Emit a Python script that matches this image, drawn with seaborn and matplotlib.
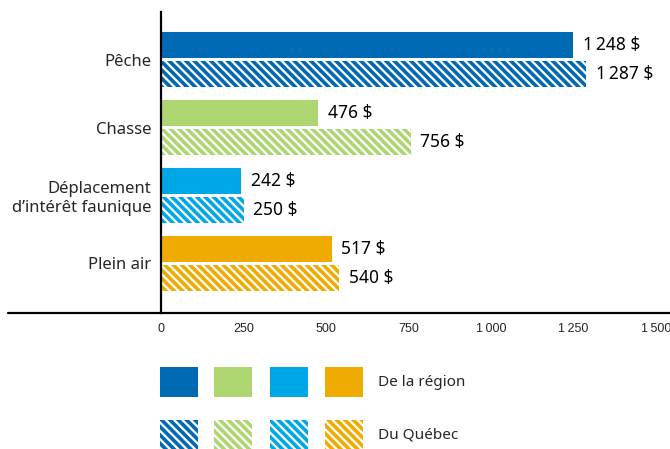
import pandas as pd
import matplotlib.pyplot as plt
import seaborn as sns
from matplotlib.patches import Rectangle
from matplotlib.lines import Line2D

# Données
activites = ['Pêche', 'Chasse', 'Déplacement\nd\u2019intérêt faunique', 'Plein air']
region = [1248, 476, 242, 517]
quebec = [1287, 756, 250, 540]
couleurs = ['#0069b4', '#aed670', '#00a7e6', '#f0ab00']
sources = ['De la région', 'Du Québec']
ticks = [0, 250, 500, 750, 1000, 1250, 1500]
tick_labels = ['0', '250', '500', '750', '1\u2009000', '1\u2009250', '1\u2009500']

HACH = '\\\\\\\\'

df = pd.DataFrame({
    'activite': activites * 2,
    'montant': region + quebec,
    'source': [sources[0]] * 4 + [sources[1]] * 4,
})

sns.set_style('white')
plt.rcParams['font.family'] = ['Noto Sans', 'DejaVu Sans']
plt.rcParams['hatch.linewidth'] = 2.6

W, H = 670, 449
fig = plt.figure(figsize=(W / 100, H / 100), dpi=100)
ax = fig.add_axes([161 / W, (H - 313) / H, (W - 161) / W, (313 - 12) / H])

sns.barplot(data=df, y='activite', x='montant', hue='source', orient='h',
            width=0.85, gap=0.1, ax=ax, legend=False, saturation=1)

# couleurs et hachures
for k, cont in enumerate(ax.containers):
    for bar, c in zip(cont, couleurs):
        bar.set_edgecolor(c)
        bar.set_linewidth(0)
        if k == 0:
            bar.set_facecolor(c)
        else:
            bar.set_facecolor('white')
            bar.set_hatch(HACH)
    vals = region if k == 0 else quebec
    labs = [f'{v:,}'.replace(',', '\u2009') + ' $' for v in vals]
    ax.bar_label(cont, labels=labs, padding=7, fontsize=12.5, color='black')

ax.set_xlim(0, 1542)
ax.set_ylim(3.73, -0.70)
ax.set_xticks(ticks)
ax.set_xticklabels(tick_labels, family=['Liberation Sans', 'DejaVu Sans'],
                   fontsize=9)
ax.set_xlabel('')
ax.set_ylabel('')
ax.tick_params(axis='x', direction='in', length=6, width=1.5, pad=7, color='black')
ax.tick_params(axis='y', length=0, pad=7, labelsize=12)
for s in ['top', 'right', 'bottom']:
    ax.spines[s].set_visible(False)
ax.spines['left'].set_linewidth(1.6)
ax.spines['left'].set_color('black')

# ligne de base prolongée à gauche
fig.add_artist(Line2D([8 / W, 1], [(H - 313) / H] * 2, color='black', lw=1.6,
                      transform=fig.transFigure))

# légende
lax = fig.add_axes([0, 0, 1, 1])
lax.set_xlim(0, W)
lax.set_ylim(H, 0)
lax.axis('off')
xs = [160, 214, 270, 325]
for x, c in zip(xs, couleurs):
    lax.add_patch(Rectangle((x, 367), 38, 30, facecolor=c, edgecolor=c, lw=0))
    lax.add_patch(Rectangle((x, 420), 38, 30, facecolor='white', edgecolor=c,
                            lw=0, hatch=HACH))
lax.text(378, 382, sources[0], fontsize=11, va='center', ha='left')
lax.text(378, 435, sources[1], fontsize=11, va='center', ha='left')

fig.savefig('out.png', dpi=100)
